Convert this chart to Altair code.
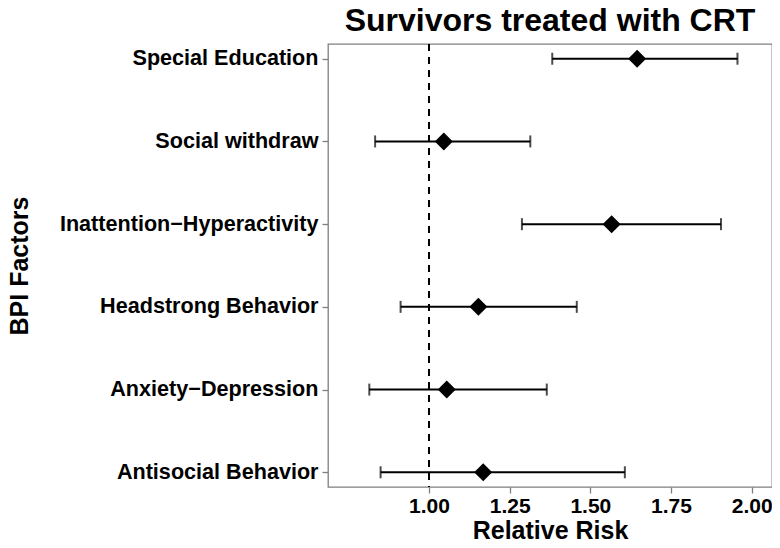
import altair as alt
import pandas as pd

factors = ["Special Education", "Social withdraw", "Inattention\u2212Hyperactivity",
           "Headstrong Behavior", "Anxiety\u2212Depression", "Antisocial Behavior"]
estimate = [1.645, 1.046, 1.566, 1.153, 1.055, 1.168]
lower = [1.382, 0.833, 1.288, 0.912, 0.815, 0.850]
upper = [1.956, 1.314, 1.905, 1.458, 1.365, 1.607]
x_ticks = [1.0, 1.25, 1.5, 1.75, 2.0]
reference = [1.0]

df = pd.DataFrame({"factor": factors, "rr": estimate, "lo": lower, "hi": upper})
ref_df = pd.DataFrame({"ref": reference})

FONT = "Liberation Sans"
GRAY = "#7f7f7f"

xscale = alt.Scale(domain=[0.687, 2.063], nice=False, zero=False)
yscale = alt.Scale(type="point", domain=factors, padding=0.178)

xaxis = alt.Axis(values=x_ticks, format=".2f", title="Relative Risk",
                 titleBaseline="alphabetic", titleY=51, titleFontSize=25,
                 labelPadding=2, labelFontSize=21)
yaxis = alt.Axis(title="BPI Factors", titleX=-301, titleBaseline="alphabetic",
                 titleFontSize=25, labelPadding=4, labelFontSize=21.6, labelLimit=400)

base = alt.Chart(df)

vline = alt.Chart(ref_df).mark_rule(color="black", strokeWidth=2, strokeDash=[7, 6]).encode(
    x=alt.X("ref:Q", scale=xscale, axis=xaxis)
)

bars = base.mark_rule(color="black", strokeWidth=2).encode(
    x=alt.X("lo:Q", scale=xscale, axis=xaxis),
    x2="hi:Q",
    y=alt.Y("factor:N", scale=yscale, axis=yaxis, sort=factors),
)

cap_lo = base.mark_tick(color="black", thickness=2, size=12, orient="vertical").encode(
    x=alt.X("lo:Q", scale=xscale),
    y=alt.Y("factor:N", scale=yscale, sort=factors),
)
cap_hi = base.mark_tick(color="black", thickness=2, size=12, orient="vertical").encode(
    x=alt.X("hi:Q", scale=xscale),
    y=alt.Y("factor:N", scale=yscale, sort=factors),
)

pts = base.mark_point(shape="diamond", filled=True, color="black", size=324, opacity=1).encode(
    x=alt.X("rr:Q", scale=xscale),
    y=alt.Y("factor:N", scale=yscale, sort=factors),
)

chart = alt.layer(vline, bars, cap_lo, cap_hi, pts).properties(
    width=444,
    height=443,
    title=alt.TitleParams("Survivors treated with CRT", anchor="middle", frame="group",
                          offset=5, fontSize=32,
                          font=FONT, fontWeight="bold", color="black"),
    autosize=alt.AutoSizeParams(type="none"),
    padding={"left": 320, "top": 36, "right": 0, "bottom": 52},
).configure_view(
    stroke=GRAY, strokeWidth=1.3
).configure_axis(
    grid=False, domain=False, tickColor=GRAY, tickWidth=1.3, tickSize=6,
    labelFont=FONT, labelFontWeight="bold", labelFontSize=21, labelColor="black",
    titleFont=FONT, titleFontWeight="bold", titleColor="black",
)

chart.save("out.html", embed_options={"renderer": "svg", "actions": False})
